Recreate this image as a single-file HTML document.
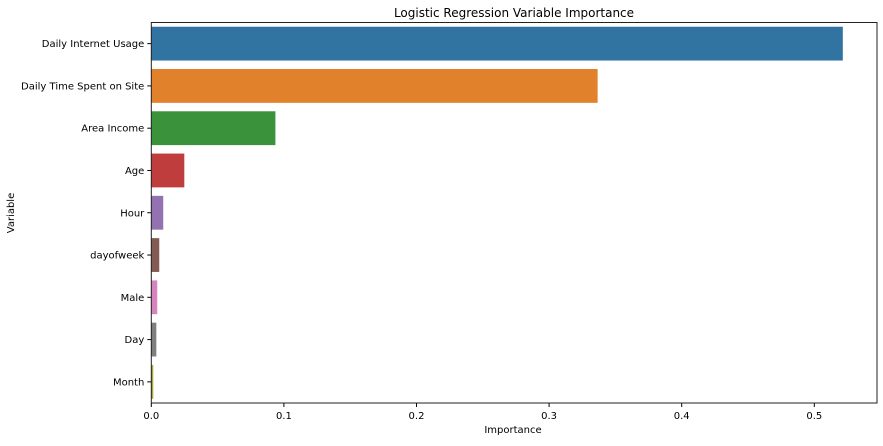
<!DOCTYPE html>
<html><head><meta charset="utf-8"><style>
body{margin:0;background:#fff;width:883px;height:441px;overflow:hidden}
svg text{font-family:"DejaVu Sans","Liberation Sans",sans-serif;fill:#000}
</style></head><body>
<svg id="chart" width="883" height="441" xmlns="http://www.w3.org/2000/svg">
<text x="514" y="17" font-size="12" text-anchor="middle">Logistic Regression Variable Importance</text>
<text x="513" y="433" font-size="10" text-anchor="middle">Importance</text>
<text x="14" y="213" font-size="10" text-anchor="middle" transform="rotate(-90 14 213)">Variable</text>
<g id="bars"></g><g id="axes"></g>
</svg>
<script>
const categories=["Daily Internet Usage","Daily Time Spent on Site","Area Income","Age","Hour","dayofweek","Male","Day","Month"];
const values=[0.5215,0.3366,0.0936,0.0249,0.0090,0.0060,0.0045,0.0038,0.0015];
const colors=["#3274a1","#e1812c","#3a923a","#c03d3e","#9372b2","#845b53","#d684bd","#7f7f7f","#a9aa35"];
const xTicks=[0,0.1,0.2,0.3,0.4,0.5];
const xTickLabels=["0.0","0.1","0.2","0.3","0.4","0.5"];
const L=151.3,R=877,T=22.5,B=403;
const xs=v=>L+v*1326;
const band=(B-T)/categories.length;
const yc=i=>T+band*(i+0.5);
const NS="http://www.w3.org/2000/svg";
const bars=document.getElementById('bars'),axes=document.getElementById('axes');
function mk(tag,attrs,parent){const e=document.createElementNS(NS,tag);for(const k in attrs)e.setAttribute(k,attrs[k]);parent.appendChild(e);return e;}
categories.forEach((c,i)=>{
 const r=mk('rect',{x:xs(0),y:yc(i)-band*0.4,width:xs(values[i])-xs(0),height:band*0.8,fill:colors[i]},bars);
 
 
 const t=mk('line',{x1:L-4,x2:L,y1:yc(i),y2:yc(i),stroke:'#000','stroke-width':1},axes);
 
 
 const l=mk('text',{x:L-7,y:yc(i)+3.5,'font-size':10,'text-anchor':'end'},axes);
 l.textContent=c;
 
 
});
xTicks.forEach((v,i)=>{
 const t=mk('line',{x1:xs(v),x2:xs(v),y1:B,y2:B+4,stroke:'#000','stroke-width':1},axes);
 
 
 const l=mk('text',{x:xs(v),y:B+16,'font-size':10,'text-anchor':'middle'},axes);
 l.textContent=xTickLabels[i];
 
 
});
const f=mk('rect',{x:L,y:T,width:R-L,height:B-T,fill:'none',stroke:'#222','stroke-width':1},axes);


</script>
</body></html>
